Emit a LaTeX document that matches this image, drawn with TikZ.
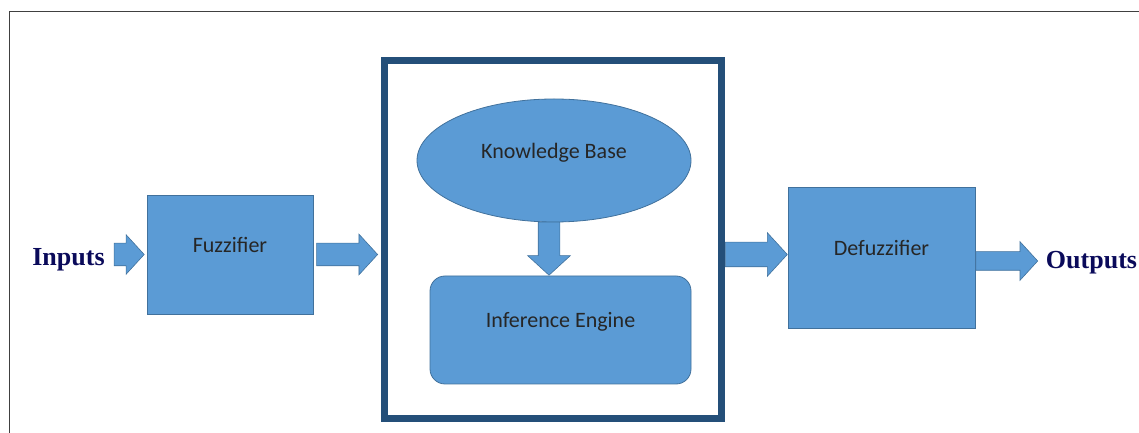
\documentclass[tikz,border=0pt]{standalone}
\usepackage{fontspec}
\setmainfont{Carlito}
\newfontfamily\labelfont{Liberation Serif}
\usepackage{tikz}
\usetikzlibrary{shapes,arrows}
\usetikzlibrary{positioning}
\definecolor{boxblue}{HTML}{5B9BD5}
\definecolor{boxedge}{HTML}{41719C}
\definecolor{framenavy}{HTML}{244F79}
\definecolor{labelnavy}{HTML}{0A0A5A}
\tikzset{
  block/.style={draw=boxedge, fill=boxblue, line width=0.8pt, text=black!85,
    font=\fontsize{22}{26}\selectfont, text height=16pt, text depth=20pt},
  blockarr/.style={single arrow, draw=boxedge, fill=boxblue, line width=0.6pt,
    inner xsep=0pt, inner ysep=#1, single arrow tip angle=95},
  io/.style={font=\labelfont\bfseries\fontsize{26}{30}\selectfont, text=labelnavy, inner sep=0pt}
}

\begin{document}
\begin{tikzpicture}[x=1pt, y=1pt]
        \useasboundingbox (0,0) rectangle (1139,433);
        % page frame
        \draw[line width=1.5pt, black!75] (9.5,0) -- (9.5,421.5) -- (1139,421.5);

        \node[block, minimum width=166pt, minimum height=119pt]  (fuzz)   at (230,178.5)   {Fuzzifier};
        \node[draw=framenavy, line width=7pt, minimum width=337pt, minimum height=358pt] (engine) at (553,193.5) {};
        \node[block, ellipse, minimum width=274pt, minimum height=123pt] (kb) at (554,272.5) {Knowledge Base};
        \node[block, rounded corners=15pt, minimum width=261pt, minimum height=108pt] (ie) at (560.5,103) {Inference Engine};
        \node[block, minimum width=187pt, minimum height=141pt]  (defuzz) at (881.5,175.5) {Defuzzifier};

        \node[io] (in)  at (68.5,173)  {Inputs};
        \node[io] (out) at (1091.5,170) {Outputs};

        % block arrows
        \node[blockarr=11pt, minimum height=30pt, single arrow head extend=8.5pt, anchor=tip]
              (in2fuzz) at ([xshift=-2pt]fuzz.west) {};
        \node[blockarr=11pt, minimum height=61pt, single arrow head extend=9pt, anchor=tip]
              (fuzz2eng) at ([xshift=-3pt]engine.west |- fuzz) {};
        \node[blockarr=12pt, minimum height=62pt, single arrow head extend=9.5pt, anchor=tail]
              (eng2def) at (engine.east |- fuzz) {};
        \node[blockarr=9pt, minimum height=62pt, single arrow head extend=10pt, anchor=tail]
              (def2out) at ([yshift=2pt]defuzz.east |- out) {};
        \node[blockarr=0pt, inner xsep=10.5pt, minimum height=53pt, single arrow head extend=10.5pt,
              shape border rotate=270, anchor=tip]
              (kb2ie) at ([xshift=-11.5pt]ie.north) {};
\end{tikzpicture}
\end{document}
